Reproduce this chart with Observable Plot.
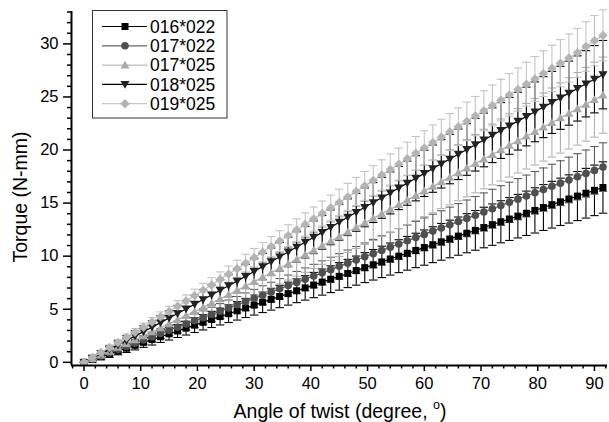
<!DOCTYPE html>
<html>
<head>
<meta charset="utf-8">
<script src="https://cdn.jsdelivr.net/npm/d3@7"></script>
<script src="https://cdn.jsdelivr.net/npm/@observablehq/plot@0.6"></script>
<style>
  html, body { margin: 0; padding: 0; background: #fff; }
  #wrap { position: relative; width: 609px; height: 422px; font-family: "Liberation Sans", Arial, sans-serif; }
  #legend { position: absolute; left: 92px; top: 10px; }
  #msg { position: absolute; left: 300px; top: 200px; color: red; font: 14px sans-serif; }
</style>
</head>
<body>
<div id="wrap"></div>
<script>
// ---- data ----
const angle = [0,1.5,3,4.5,6,7.5,9,10.5,12,13.5,15,16.5,18,19.5,21,22.5,24,25.5,27,28.5,30,31.5,33,34.5,36,37.5,39,40.5,42,43.5,45,46.5,48,49.5,51,52.5,54,55.5,57,58.5,60,61.5,63,64.5,66,67.5,69,70.5,72,73.5,75,76.5,78,79.5,81,82.5,84,85.5,87,88.5,90,91.5];

const seriesNames = ["016*022","017*022","017*025","018*025","019*025"];

const torque016_022 = [0,0.26,0.53,0.8,1.07,1.33,1.6,1.88,2.14,2.41,2.68,2.95,3.22,3.5,3.77,4.04,4.31,4.58,4.85,5.12,5.39,5.66,5.93,6.2,6.47,6.74,7.01,7.28,7.56,7.83,8.1,8.37,8.64,8.92,9.19,9.46,9.73,10.0,10.27,10.54,10.81,11.08,11.35,11.62,11.89,12.16,12.43,12.7,12.97,13.24,13.5,13.77,14.04,14.31,14.58,14.85,15.12,15.39,15.66,15.93,16.2,16.47];
const error016_022 = [0,0.24,0.29,0.33,0.36,0.4,0.43,0.47,0.51,0.54,0.58,0.61,0.65,0.69,0.72,0.76,0.79,0.83,0.87,0.9,0.94,0.97,1.01,1.05,1.08,1.12,1.15,1.19,1.23,1.26,1.3,1.33,1.37,1.41,1.44,1.48,1.51,1.55,1.59,1.62,1.66,1.69,1.73,1.77,1.8,1.84,1.87,1.91,1.95,1.98,2.02,2.05,2.09,2.13,2.16,2.2,2.23,2.27,2.31,2.34,2.38,2.42];

const torque017_022 = [0,0.3,0.6,0.9,1.2,1.5,1.8,2.1,2.41,2.71,3.01,3.31,3.61,3.91,4.21,4.51,4.82,5.12,5.42,5.72,6.02,6.32,6.62,6.93,7.23,7.53,7.83,8.13,8.43,8.73,9.04,9.34,9.64,9.94,10.24,10.54,10.85,11.15,11.45,11.75,12.05,12.36,12.66,12.96,13.26,13.56,13.86,14.16,14.47,14.77,15.07,15.37,15.67,15.97,16.27,16.58,16.88,17.18,17.48,17.78,18.08,18.39];
const error017_022 = [0,0.19,0.22,0.26,0.29,0.33,0.36,0.4,0.43,0.47,0.5,0.54,0.57,0.61,0.64,0.68,0.71,0.75,0.78,0.82,0.85,0.89,0.92,0.96,0.99,1.03,1.06,1.1,1.13,1.17,1.2,1.24,1.27,1.31,1.34,1.38,1.41,1.45,1.48,1.52,1.55,1.59,1.62,1.66,1.69,1.73,1.76,1.8,1.83,1.87,1.9,1.94,1.97,2.01,2.04,2.08,2.11,2.15,2.18,2.22,2.25,2.29];

const torque017_025 = [0,0.34,0.69,1.04,1.4,1.76,2.12,2.49,2.86,3.24,3.62,4.0,4.39,4.78,5.17,5.57,5.97,6.37,6.78,7.19,7.6,8.02,8.44,8.86,9.28,9.7,10.12,10.55,10.98,11.41,11.84,12.27,12.7,13.13,13.56,13.99,14.42,14.85,15.28,15.71,16.14,16.57,17.0,17.43,17.86,18.29,18.72,19.15,19.58,20.01,20.44,20.87,21.3,21.73,22.16,22.59,23.02,23.45,23.88,24.31,24.74,25.17];
const error017_025 = [0,0.26,0.31,0.37,0.42,0.48,0.53,0.59,0.64,0.7,0.76,0.81,0.87,0.92,0.98,1.03,1.09,1.14,1.2,1.25,1.31,1.37,1.42,1.48,1.53,1.59,1.64,1.7,1.75,1.81,1.87,1.92,1.98,2.03,2.09,2.14,2.2,2.25,2.31,2.36,2.42,2.48,2.53,2.59,2.64,2.7,2.75,2.81,2.86,2.92,2.98,3.03,3.09,3.14,3.2,3.25,3.31,3.36,3.42,3.47,3.53,3.59];

const torque018_025 = [0,0.4,0.81,1.22,1.63,2.05,2.47,2.89,3.31,3.74,4.17,4.6,5.03,5.47,5.91,6.35,6.79,7.22,7.65,8.1,8.56,9.02,9.48,9.94,10.4,10.86,11.32,11.78,12.24,12.72,13.2,13.67,14.13,14.6,15.05,15.5,15.96,16.42,16.88,17.34,17.8,18.25,18.7,19.15,19.6,20.05,20.5,20.95,21.4,21.84,22.28,22.72,23.16,23.6,24.04,24.48,24.92,25.36,25.8,26.24,26.67,27.1];
const error018_025 = [0,0.25,0.3,0.35,0.4,0.45,0.5,0.55,0.6,0.65,0.7,0.74,0.79,0.84,0.89,0.94,0.99,1.04,1.09,1.14,1.19,1.24,1.29,1.34,1.39,1.44,1.49,1.54,1.59,1.64,1.69,1.73,1.78,1.83,1.88,1.93,1.98,2.03,2.08,2.13,2.18,2.23,2.28,2.33,2.38,2.43,2.48,2.53,2.58,2.63,2.68,2.72,2.77,2.82,2.87,2.92,2.97,3.02,3.07,3.12,3.17,3.22];

const torque019_025 = [0,0.46,0.93,1.4,1.87,2.35,2.83,3.31,3.8,4.29,4.78,5.28,5.78,6.28,6.78,7.29,7.8,8.31,8.82,9.34,9.86,10.38,10.9,11.42,11.94,12.46,12.98,13.5,14.02,14.54,15.06,15.58,16.1,16.62,17.14,17.65,18.16,18.67,19.18,19.69,20.2,20.7,21.2,21.7,22.2,22.7,23.2,23.7,24.2,24.7,25.2,25.7,26.2,26.7,27.2,27.69,28.18,28.67,29.16,29.75,30.3,30.8];
const error019_025 = [0,0.16,0.2,0.23,0.27,0.31,0.35,0.38,0.42,0.46,0.5,0.53,0.57,0.61,0.65,0.68,0.72,0.76,0.8,0.83,0.87,0.91,0.95,0.98,1.02,1.06,1.1,1.13,1.17,1.21,1.25,1.28,1.32,1.36,1.4,1.43,1.47,1.51,1.55,1.58,1.62,1.66,1.7,1.73,1.77,1.81,1.85,1.88,1.92,1.96,2.0,2.03,2.07,2.11,2.15,2.18,2.22,2.26,2.3,2.33,2.37,2.41];

const yTicks = [0,5,10,15,20,25,30];
const yMinorTicks = [1,2,3,4,6,7,8,9,11,12,13,14,16,17,18,19,21,22,23,24,26,27,28,29,31,32,33];
const xTicks = [0,10,20,30,40,50,60,70,80,90];
const xMinorTicks = [-2,2,4,6,8,12,14,16,18,22,24,26,28,32,34,36,38,42,44,46,48,52,54,56,58,62,64,66,68,72,74,76,78,82,84,86,88,92];

const xDomain = [-2.2, 92.3];
const yDomain = [-0.3, 33.05];

const xLabel = "Angle of twist (degree, ";
const xLabelSup = "o";
const xLabelEnd = ")";
const yLabel = "Torque (N-mm)";

// ---- styling ----
const sqSym = {draw(c){ c.moveTo(-3.5,-3.5); c.lineTo(3.5,-3.5); c.lineTo(3.5,3.5); c.lineTo(-3.5,3.5); c.closePath(); }};
const circSym = {draw(c){ c.moveTo(3.8,0); c.arc(0,0,3.8,0,2*Math.PI); c.closePath(); }};
const triUpSym = {draw(c){ c.moveTo(0,-4.4); c.lineTo(4.5,3.4); c.lineTo(-4.5,3.4); c.closePath(); }};
const triDownSym = {draw(c){ c.moveTo(0,4.4); c.lineTo(4.5,-3.4); c.lineTo(-4.5,-3.4); c.closePath(); }};
const diaSym = {draw(c){ c.moveTo(0,-4.7); c.lineTo(4.7,0); c.lineTo(0,4.7); c.lineTo(-4.7,0); c.closePath(); }};
const capSym = {draw(c){ c.moveTo(-4.2,0); c.lineTo(4.2,0); }};

const style = [
  {sym: sqSym, marker: "#000000", line: "#000000", bar: "#000000", legendLine: "#000000"},
  {sym: circSym, marker: "#4f4f4f", line: "#555555", bar: "#5e5e5e", legendLine: "#666666"},
  {sym: triUpSym, marker: "#a9a9a9", line: "#acacac", bar: "#b0b0b0", legendLine: "#bbbbbb"},
  {sym: triDownSym, marker: "#222222", line: "#000000", bar: "#000000", legendLine: "#000000"},
  {sym: diaSym, marker: "#b4b4b4", line: "#bdbdbd", bar: "#c4c4c4", legendLine: "#c6c6c6"}
];

const values = [torque016_022, torque017_022, torque017_025, torque018_025, torque019_025];
const errors = [error016_022, error017_022, error017_025, error018_025, error019_025];

const rows = [];
seriesNames.forEach((name, s) => {
  angle.forEach((a, i) => rows.push({series: name, s, angle: a, torque: values[s][i], err: errors[s][i]}));
});
const bySeries = seriesNames.map((_, s) => rows.filter(d => d.s === s));

const marks = [];
// error bars first
bySeries.forEach((data, s) => {
  marks.push(Plot.ruleX(data, {x: "angle", y1: d => d.torque - d.err, y2: d => d.torque + d.err, stroke: style[s].bar, strokeWidth: 1.1}));
  marks.push(Plot.dot(data, {x: "angle", y: d => d.torque + d.err, symbol: capSym, fill: "none", stroke: style[s].bar, strokeWidth: 1.1}));
  marks.push(Plot.dot(data, {x: "angle", y: d => d.torque - d.err, symbol: capSym, fill: "none", stroke: style[s].bar, strokeWidth: 1.1}));
});
bySeries.forEach((data, s) => {
  marks.push(Plot.line(data, {x: "angle", y: "torque", stroke: style[s].line, strokeWidth: 1.2}));
  marks.push(Plot.dot(data, {x: "angle", y: "torque", symbol: style[s].sym, fill: style[s].marker, stroke: "none"}));
});

const chart = Plot.plot({
  width: 609,
  height: 422,
  marginLeft: 71,
  marginRight: 2,
  marginTop: 11,
  marginBottom: 57,
  style: {fontFamily: "'Liberation Sans', Arial, sans-serif", fontSize: "16px", color: "#000", background: "#fff"},
  x: {domain: xDomain},
  y: {domain: yDomain},
  marks: [
    ...marks,
    Plot.axisY(yTicks, {tickSize: 8, tickPadding: 5, fontSize: 16.5, strokeWidth: 1.5, label: null}),
    Plot.axisY(yMinorTicks, {tickSize: 4, text: null, tickFormat: () => "", strokeWidth: 1.5, label: null}),
    Plot.axisX(xTicks, {tickSize: 6, tickPadding: 6, fontSize: 16.5, strokeWidth: 1.5, label: null}),
    Plot.axisX(xMinorTicks, {tickSize: 3.5, text: null, tickFormat: () => "", strokeWidth: 1.5, label: null}),
    Plot.ruleX([xDomain[0]], {stroke: "#000", strokeWidth: 2}),
    Plot.ruleY([yDomain[0]], {stroke: "#000", strokeWidth: 2})
  ]
});

const svg = d3.select(chart.tagName.toLowerCase() === "svg" ? chart : chart.querySelector("svg"));
// x axis title with superscript
const xt = svg.append("text")
  .attr("x", 340).attr("y", 418)
  .attr("text-anchor", "middle")
  .attr("font-size", 19.5)
  .attr("fill", "#000");
xt.append("tspan").text(xLabel);
xt.append("tspan").attr("font-size", 12.5).attr("dy", -9).text(xLabelSup);
xt.append("tspan").attr("dy", 9).text(xLabelEnd);
// y axis title
svg.append("text")
  .attr("transform", "translate(27,197) rotate(-90)")
  .attr("text-anchor", "middle")
  .attr("font-size", 19.5)
  .attr("fill", "#000")
  .text(yLabel);

const wrap = document.getElementById("wrap");
wrap.appendChild(chart);

// legend (inside plot area, top-left)
const lg = d3.create("svg").attr("id", "legend").attr("width", 136).attr("height", 109)
  .style("font-family", "'Liberation Sans', Arial, sans-serif");
lg.append("rect").attr("x", 0.5).attr("y", 0.5).attr("width", 134.5).attr("height", 107.5)
  .attr("fill", "#fff").attr("stroke", "#333").attr("stroke-width", 1);
seriesNames.forEach((name, s) => {
  const cy = 16.5 + s * 19.3;
  lg.append("line").attr("x1", 10).attr("x2", 55).attr("y1", cy).attr("y2", cy)
    .attr("stroke", style[s].legendLine).attr("stroke-width", 1.2);
  const p = d3.path(); style[s].sym.draw(p);
  lg.append("path").attr("d", p.toString()).attr("transform", `translate(33,${cy})`).attr("fill", style[s].marker);
  lg.append("text").attr("x", 58).attr("y", cy).attr("dy", "0.36em").attr("font-size", 17.5).attr("fill", "#000").text(name);
});
wrap.appendChild(lg.node());
</script>
</body>
</html>
